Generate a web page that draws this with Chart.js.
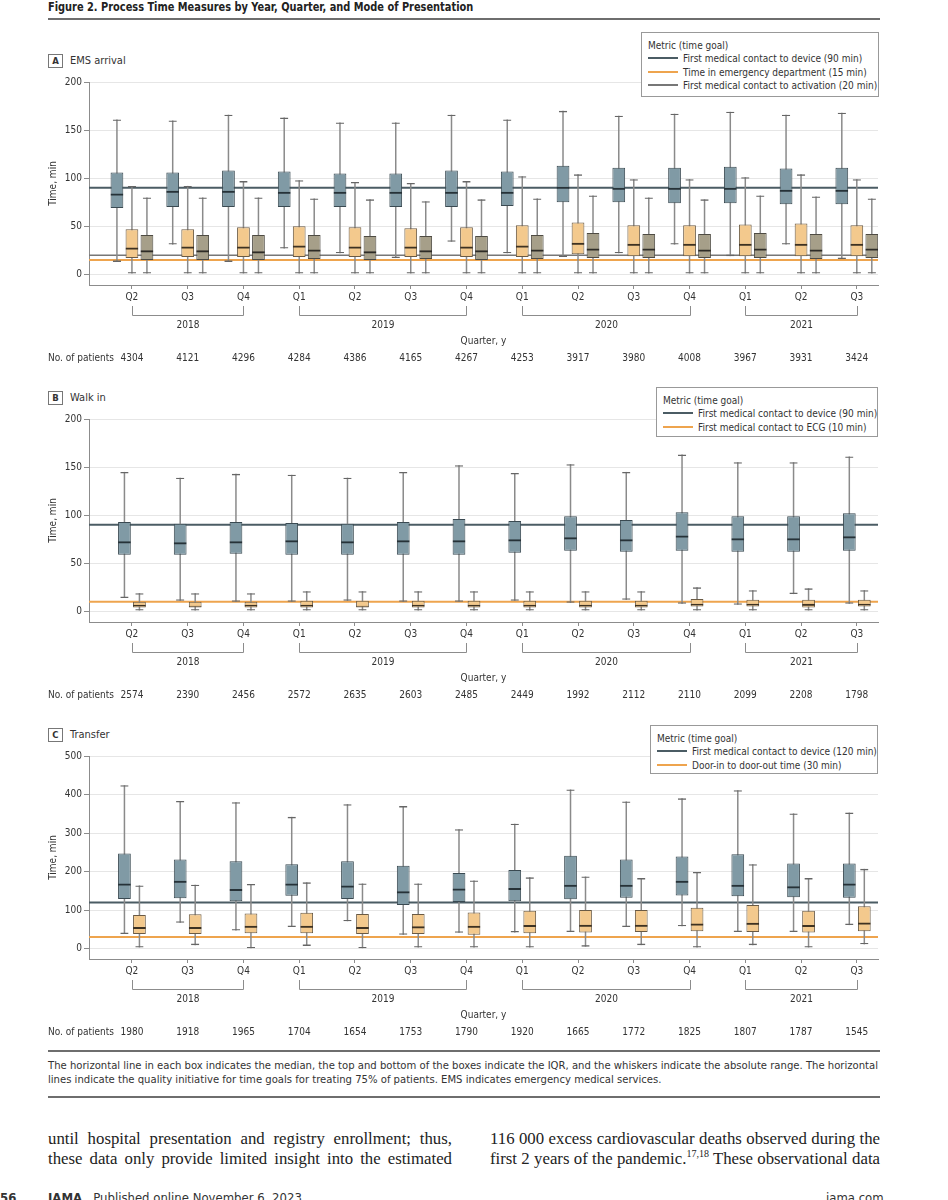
<!DOCTYPE html>
<html>
<head>
<meta charset="utf-8">
<script src="https://cdn.jsdelivr.net/npm/chart.js@4.4.1/dist/chart.umd.min.js"></script>
<style>
body{margin:0;width:948px;height:1200px;overflow:hidden;background:#fff;position:relative;
  font-family:'Liberation Sans Narrow','DejaVu Sans Condensed','Open Sans',sans-serif;color:#222}
canvas{position:absolute;left:0}
.abs{position:absolute}
#title{left:48px;top:0;font-size:12px;font-weight:bold;line-height:15px;white-space:nowrap;color:#222;
  transform:scaleX(0.91);transform-origin:0 0}
.rule{position:absolute;left:48px;width:832px;height:2px;background:#6e6e6e}
.plabel{position:absolute;left:48px;font-size:11px;line-height:14px;white-space:nowrap;color:#333}
.pbox{display:inline-block;width:13px;height:12px;border:1px solid #777;font-weight:bold;font-size:9.5px;
  line-height:12px;text-align:center;margin-right:7px;vertical-align:top}
.legend{position:absolute;background:#fff;border:1px solid #999;font-size:10px;line-height:13.3px;
  padding:6px 6px 5px 6px;white-space:nowrap;color:#333;box-sizing:border-box}
.sw{display:inline-block;width:30px;height:2px;vertical-align:middle;margin-right:5px;margin-top:-2px}
#caption{left:48px;top:1059px;font-size:11.2px;line-height:14px;white-space:nowrap;color:#333}
.body{position:absolute;top:1129px;font-family:'Liberation Serif','DejaVu Serif',serif;font-size:16.8px;line-height:20px;color:#222}
.body div{text-align:justify;text-align-last:justify;white-space:nowrap}
#footer{left:48px;top:1190px;font-size:13px;white-space:nowrap;color:#333}
</style>
</head>
<body>
<div id="title" class="abs">Figure 2. Process Time Measures by Year, Quarter, and Mode of Presentation</div>
<div class="rule" style="top:18px"></div>

<div class="plabel" style="top:54px"><span class="pbox">A</span>EMS arrival</div>
<canvas id="chartA" width="948" height="300" style="top:70px"></canvas>
<div class="legend" style="left:641px;top:32px;width:238px;height:65px">
  <div>Metric (time goal)</div>
  <div><span class="sw" style="background:#4b5c64"></span>First medical contact to device (90 min)</div>
  <div><span class="sw" style="background:#eea44e"></span>Time in emergency department (15 min)</div>
  <div><span class="sw" style="background:#777"></span>First medical contact to activation (20 min)</div>
</div>

<div class="plabel" style="top:391px"><span class="pbox">B</span>Walk in</div>
<canvas id="chartB" width="948" height="300" style="top:407px"></canvas>
<div class="legend" style="left:656px;top:387px;width:222px;height:50px">
  <div>Metric (time goal)</div>
  <div><span class="sw" style="background:#4b5c64"></span>First medical contact to device (90 min)</div>
  <div><span class="sw" style="background:#eea44e"></span>First medical contact to ECG (10 min)</div>
</div>

<div class="plabel" style="top:728px"><span class="pbox">C</span>Transfer</div>
<canvas id="chartC" width="948" height="300" style="top:744px"></canvas>
<div class="legend" style="left:650px;top:725px;width:228px;height:49px">
  <div>Metric (time goal)</div>
  <div><span class="sw" style="background:#4b5c64"></span>First medical contact to device (120 min)</div>
  <div><span class="sw" style="background:#eea44e"></span>Door-in to door-out time (30 min)</div>
</div>

<div class="rule" style="top:1050px"></div>
<div id="caption" class="abs">The horizontal line in each box indicates the median, the top and bottom of the boxes indicate the IQR, and the whiskers indicate the absolute range. The horizontal<br>lines indicate the quality initiative for time goals for treating 75% of patients. EMS indicates emergency medical services.</div>
<div class="rule" style="top:1096px"></div>

<div class="body" style="left:48px;width:404px">
  <div>until hospital presentation and registry enrollment; thus,</div>
  <div>these data only provide limited insight into the estimated</div>
</div>
<div class="body" style="left:490px;width:390px">
  <div>116 000 excess cardiovascular deaths observed during the</div>
  <div>first 2 years of the pandemic.<sup style="font-size:10px;line-height:0">17,18</sup> These observational data</div>
</div>
<div id="footer" class="abs"><b>JAMA</b>&nbsp;&nbsp; Published online November 6, 2023</div>
<div class="abs" style="left:0;top:1190px;font-size:13px;font-weight:bold;color:#333">56</div>
<div class="abs" style="left:826px;top:1190px;font-size:13px;color:#333">jama.com</div>

<script>
// quarters on the x axis and the year brackets under them
const quarters = ["Q2","Q3","Q4","Q1","Q2","Q3","Q4","Q1","Q2","Q3","Q4","Q1","Q2","Q3"];
const years = ["2018","2019","2020","2021"];
const yearFirst = [0, 3, 7, 11];
const yearLast = [2, 6, 10, 13];

// patients per quarter
const patientsEms = [4304,4121,4296,4284,4386,4165,4267,4253,3917,3980,4008,3967,3931,3424];
const patientsWalk = [2574,2390,2456,2572,2635,2603,2485,2449,1992,2112,2110,2099,2208,1798];
const patientsTransfer = [1980,1918,1965,1704,1654,1753,1790,1920,1665,1772,1825,1807,1787,1545];

// each entry: [min, Q1, median, Q3, max] in minutes
const emsDevice = [[13,69,84,106,161],[31,70,87,106,160],[13,70,87,108,166],[27,70,86,107,163],
  [22,70,86,105,158],[17,70,86,105,158],[34,70,86,108,166],[22,71,86,107,161],[18,75,91,113,170],
  [22,75,90,111,165],[31,74,90,111,167],[19,74,90,112,169],[31,73,88,110,166],[16,73,88,111,168]];
const emsEd = [[1,17,28,47,92],[1,18,29,47,92],[1,18,29,49,97],[1,18,30,50,98],[1,18,29,49,96],
  [1,18,29,48,95],[1,18,29,49,97],[1,18,30,51,102],[1,21,33,54,104],[1,19,32,51,99],[1,19,32,51,99],
  [1,19,32,52,101],[1,19,32,53,104],[1,19,32,51,99]];
const emsActivation = [[1,15,25,41,80],[1,15,25,41,80],[1,15,24,41,80],[1,16,26,41,79],[1,15,24,40,78],
  [1,16,25,40,76],[1,15,25,40,78],[1,16,26,41,79],[1,17,27,43,82],[1,17,27,42,80],[1,17,26,42,78],
  [1,17,27,43,82],[1,16,26,42,81],[1,17,27,42,79]];

const walkDevice = [[14,59,73,93,145],[11,59,72,91,139],[10,60,73,93,143],[10,59,74,92,142],
  [11,59,73,91,139],[10,59,74,93,145],[10,59,74,96,152],[11,61,75,94,144],[9,63,77,99,153],
  [12,62,75,95,145],[8,63,79,103,163],[7,62,76,99,155],[18,62,76,99,155],[8,63,78,102,161]];
const walkEcg = [[1,4,7,10,19],[1,4,6,10,19],[1,4,7,10,19],[1,4,7,11,21],[1,4,6,11,21],[1,4,7,11,21],
  [1,4,7,11,21],[1,4,7,11,21],[1,4,7,11,21],[1,4,7,11,21],[1,5,8,13,25],[1,5,8,12,22],[1,4,8,12,24],
  [1,5,8,12,22]];

const transferDevice = [[38,129,169,247,424],[67,131,176,231,383],[47,123,155,227,380],[56,137,169,219,342],
  [71,129,164,227,375],[36,113,149,215,370],[41,121,156,196,310],[42,123,157,204,324],[43,128,166,241,413],
  [56,132,166,231,382],[58,138,176,239,390],[43,136,166,245,411],[43,133,162,221,351],[61,132,169,221,353]];
const transferDido = [[3,38,56,87,164],[9,38,56,89,166],[1,40,59,91,168],[7,40,59,93,172],[1,38,56,90,169],
  [3,38,58,90,169],[3,36,59,94,177],[3,40,61,98,185],[5,42,62,100,187],[9,43,62,100,183],[3,45,65,106,199],
  [9,43,67,113,219],[3,42,61,98,183],[11,45,68,110,207]];

// time goals (horizontal lines)
const goalsEms = [90, 15, 20];
const goalsWalk = [90, 10];
const goalsTransfer = [120, 30];

const ticksSmall = [0, 50, 100, 150, 200];
const ticksLarge = [0, 100, 200, 300, 400, 500];

const FONT = "'Liberation Sans Narrow','DejaVu Sans Condensed','Open Sans',sans-serif";
const X_MIN = -0.77, X_MAX = 13.38;

const looks = {
  device: {fill:"#809aa5", edge:"#3a4a52", median:"#263238", goal:"#4b5c64", goalWidth:2},
  orange: {fill:"#f3c98d", edge:"#6a5a44", median:"#3e3222", goal:"#eea44e", goalWidth:2},
  gray:   {fill:"#a69f89", edge:"#4e4b43", median:"#2e2c27", goal:"#777777", goalWidth:1.5}
};

// box = IQR bar, median = top edge of a clear bar from Q1 to median,
// whisker = thin stem plus a clear bar with caps at min and max
function boxSets(series, look, k, cp) {
  const base = {stack: "s" + k, categoryPercentage: cp, borderSkipped: false};
  return [
    Object.assign({}, base, {order: 3 * k, data: series.map((s, i) => ({x: i, y: [s[1], s[2]]})),
      backgroundColor: "rgba(0,0,0,0)", borderColor: look.median,
      borderWidth: {top: 2, bottom: 0, left: 0, right: 0}, barPercentage: 0.85}),
    Object.assign({}, base, {order: 3 * k + 1, data: series.map((s, i) => ({x: i, y: [s[1], s[3]]})),
      backgroundColor: look.fill, borderColor: look.edge, borderWidth: 1, barPercentage: 0.85}),
    Object.assign({}, base, {order: 3 * k + 2, data: series.map((s, i) => ({x: i, y: [s[0], s[4]]})),
      backgroundColor: "rgba(0,0,0,0)", borderColor: "#666",
      borderWidth: {top: 1.3, bottom: 1.3, left: 0, right: 0}, barPercentage: 0.55}),
    Object.assign({}, base, {order: 3 * k + 2, data: series.map((s, i) => ({x: i, y: [s[0], s[4]]})),
      backgroundColor: "#8a8a8a", borderWidth: 0, barPercentage: 0.1})
  ];
}

function goalLine(value, look) {
  return {type: "line", data: [{x: X_MIN, y: value}, {x: X_MAX, y: value}],
    borderColor: look.goal, borderWidth: look.goalWidth, pointRadius: 0, order: 100};
}

const axisExtras = {
  id: "axisExtras",
  afterDraw(chart, args, opts) {
    const ctx = chart.ctx, xs = chart.scales.x, top = xs.top;
    ctx.save();
    ctx.strokeStyle = "#8c8c8c";
    ctx.lineWidth = 1;
    ctx.fillStyle = "#333";
    ctx.font = "10px " + FONT;
    ctx.textAlign = "center";
    ctx.textBaseline = "middle";
    years.forEach((yr, k) => {
      const x0 = Math.round(xs.getPixelForValue(yearFirst[k])) + 0.5;
      const x1 = Math.round(xs.getPixelForValue(yearLast[k])) + 0.5;
      const yb = Math.round(top + 30) + 0.5;
      ctx.beginPath();
      ctx.moveTo(x0, top + 21); ctx.lineTo(x0, yb); ctx.lineTo(x1, yb); ctx.lineTo(x1, top + 21);
      ctx.stroke();
      ctx.fillText(yr, (x0 + x1) / 2, top + 40);
    });
    opts.counts.forEach((n, i) => ctx.fillText(String(n), xs.getPixelForValue(i), top + 73));
    ctx.textAlign = "left";
    ctx.fillText("No. of patients", 48, top + 73);
    ctx.restore();
  }
};

function makeChart(id, seriesList, lookList, goals, yMin, yMax, yTicks, counts, cp) {
  let datasets = [];
  seriesList.forEach((s, k) => { datasets = datasets.concat(boxSets(s, lookList[k], k, cp)); });
  goals.forEach((g, k) => datasets.push(goalLine(g, lookList[k])));
  return new Chart(document.getElementById(id), {
    type: "bar",
    data: {datasets: datasets},
    options: {
      responsive: false,
      animation: false,
      events: [],
      layout: {padding: {top: 12, right: 70, bottom: 1, left: 0}},
      plugins: {legend: {display: false}, tooltip: {enabled: false}, axisExtras: {counts: counts}},
      scales: {
        x: {
          type: "linear", min: X_MIN, max: X_MAX, offset: false,
          afterBuildTicks: s => { s.ticks = quarters.map((q, i) => ({value: i})); },
          afterFit: s => { s.height = 84; },
          ticks: {callback: v => quarters[Math.round(v)], color: "#333", padding: 2,
            maxRotation: 0, autoSkip: false},
          grid: {drawOnChartArea: false, drawTicks: true, tickLength: 4, tickColor: "#8c8c8c", offset: false},
          border: {display: true, color: "#8c8c8c", width: 1},
          title: {display: true, text: "Quarter, y", color: "#333", padding: {top: 0, bottom: 22}}
        },
        y: {
          stacked: false, min: yMin, max: yMax,
          afterBuildTicks: s => { s.ticks = yTicks.map(v => ({value: v})); },
          afterFit: s => { s.width = 89; },
          ticks: {color: "#333", padding: 2},
          grid: {color: "#e6e6e6", drawTicks: true, tickLength: 5, tickColor: "#8c8c8c"},
          border: {display: true, color: "#8c8c8c", width: 1},
          title: {display: true, text: "Time, min", color: "#333", padding: {top: 47, bottom: 0}}
        }
      }
    },
    plugins: [axisExtras]
  });
}

Chart.defaults.font.family = FONT;
Chart.defaults.font.size = 10;

makeChart("chartA", [emsDevice, emsEd, emsActivation], [looks.device, looks.orange, looks.gray],
  goalsEms, -11, 200, ticksSmall, patientsEms, 0.807);
makeChart("chartB", [walkDevice, walkEcg], [looks.device, looks.orange],
  goalsWalk, -11, 200, ticksSmall, patientsWalk, 0.538);
makeChart("chartC", [transferDevice, transferDido], [looks.device, looks.orange],
  goalsTransfer, -27, 500, ticksLarge, patientsTransfer, 0.538);
</script>
</body>
</html>
